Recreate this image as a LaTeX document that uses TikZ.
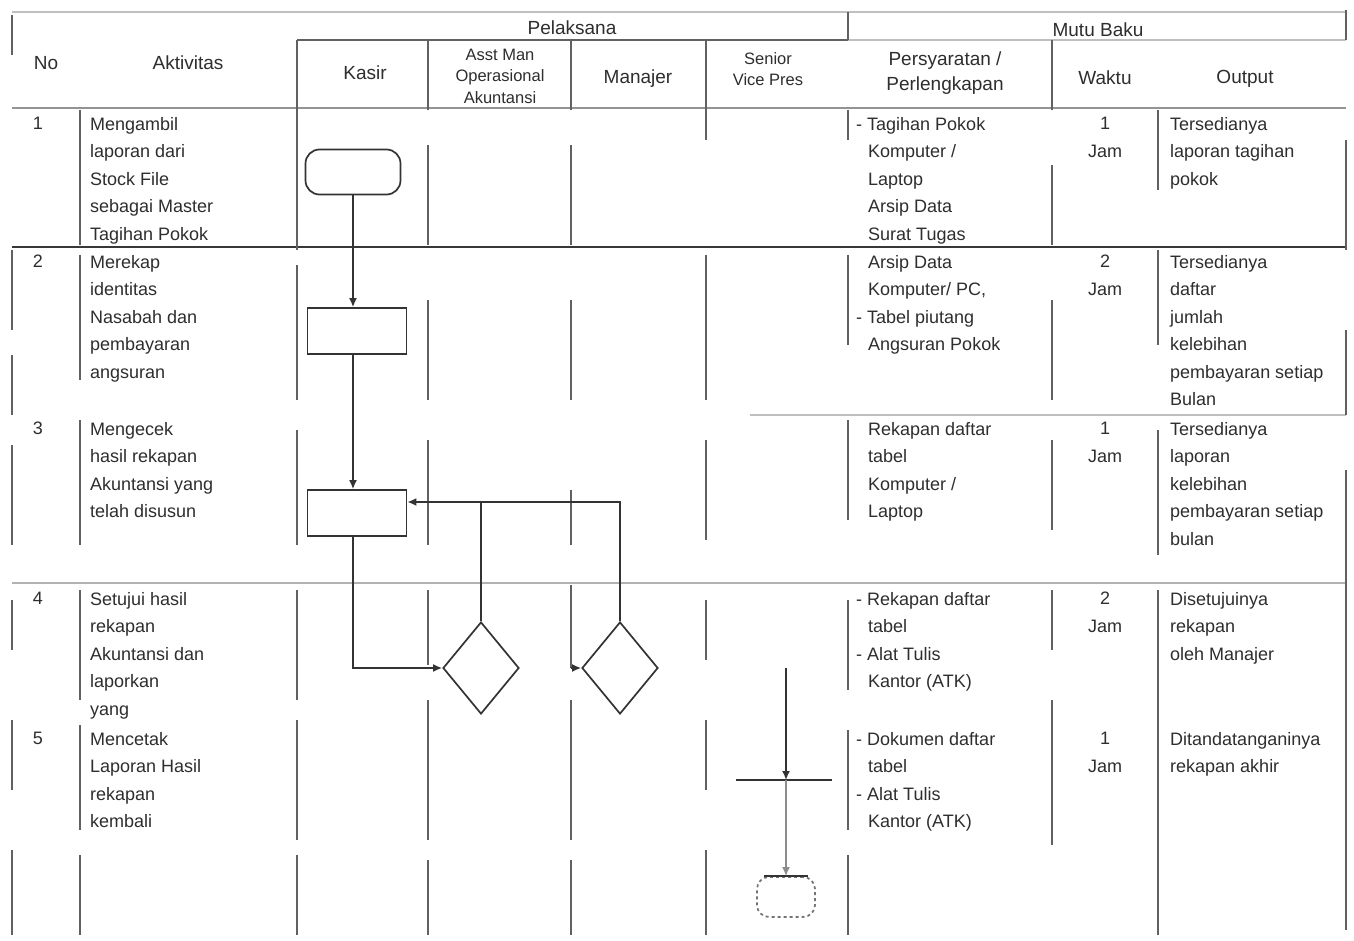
\documentclass[tikz,border=0pt]{standalone}
\usepackage{fontspec}
\setmainfont{Liberation Sans}
\usetikzlibrary{shapes.geometric,arrows.meta}
\begin{document}
\begin{tikzpicture}[x=1pt,y=-1pt,
  grid/.style={draw=black!62, line width=1.5pt},
  faint/.style={draw=black!25, line width=1.2pt},
  flow/.style={draw=black!80, line width=1.7pt},
  arr/.style={flow,-{Latex[length=9pt,width=8pt]}},
  txt/.style={font=\fontsize{18}{27.5}\selectfont, text=black!82, inner sep=0pt, align=left, anchor=north west},
  ctxt/.style={txt, align=center, anchor=north},
  htxt/.style={font=\fontsize{19}{25}\selectfont, text=black!82, inner sep=0pt, align=center},
  stxt/.style={font=\fontsize{16.5}{21.5}\selectfont, text=black!82, inner sep=0pt, align=center},
  term/.style={flow, rectangle, rounded corners=14pt, minimum width=95pt, minimum height=45pt, inner sep=0pt},
  proc/.style={flow, rectangle, minimum width=99pt, minimum height=46pt, inner sep=0pt},
  dec/.style={flow, diamond, minimum width=76pt, minimum height=92pt, inner sep=0pt},
]
\fill[white] (0,0) rectangle (1354,941);
\path[use as bounding box] (0,0) rectangle (1354,941);

% horizontal rules
\draw[faint] (12,12) -- (1346,12);
\draw[grid] (297,40) -- (848,40);
\draw[faint] (848,40) -- (1346,40);
\draw[draw=black!42, line width=1.6pt] (12,108) -- (1346,108);
\draw[draw=black!78, line width=2.4pt] (12,247) -- (1346,247);
\draw[faint] (750,415) -- (1346,415);
\draw[draw=black!30, line width=1.5pt] (12,583) -- (1346,583);

% vertical rules (broken segments as in the scan)
\foreach \x/\segs in {
  12/{15/55,250/330,355/415,445/545,600/650,720/790,850/935},
  80/{110/245,255/380,420/545,590/700,725/830,855/935},
  297/{40/250,265/400,430/545,590/700,720/840,855/935},
  428/{40/110,145/245,300/400,440/545,590/665,700/840,860/935},
  571/{40/110,145/245,300/400,490/545,585/668,700/840,860/935},
  706/{40/140,255/400,440/540,600/660,720/790,850/935},
  848/{12/40,110/140,255/345,420/520,600/690,730/830,855/935},
  1052/{40/110,165/245,300/400,440/530,590/650,700/845},
  1158/{110/190,250/345,430/555,590/935},
  1346/{10/40,140/250,330/415,470/930}} {
  \foreach \a/\b in \segs {\draw[grid] (\x,\a) -- (\x,\b);}
}

% header
\node[htxt] (hno) at (46,63) {No};
\node[htxt] (hakt) at (188,63) {Aktivitas};
\node[htxt] (hpel) at (572,28) {Pelaksana};
\node[htxt] (hkas) at (365,73) {Kasir};
\node[stxt] (hasst) at (500,76) {Asst Man\\Operasional\\Akuntansi};
\node[htxt] (hman) at (638,79) {Manajer};
\node[stxt] (hsen) at (768,69) {Senior\\Vice Pres};
\node[htxt] (hmutu) at (1098,30) {Mutu Baku};
\node[htxt] (hper) at (945,73) {Persyaratan /\\Perlengkapan};
\node[htxt] (hwak) at (1105,78) {Waktu};
\node[htxt] (hout) at (1245,79) {Output};

% numbers
\node[ctxt] (n1) at (38,117) {1};
\node[ctxt] (n2) at (38,255) {2};
\node[ctxt] (n3) at (38,422) {3};
\node[ctxt] (n4) at (38,592) {4};
\node[ctxt] (n5) at (38,732) {5};

% activities
\node[txt] (a1) at (90,117) {Mengambil\\laporan dari\\Stock File\\sebagai Master\\Tagihan Pokok};
\node[txt] (a2) at (90,255) {Merekap\\identitas\\Nasabah dan\\pembayaran\\angsuran};
\node[txt] (a3) at (90,422) {Mengecek\\hasil rekapan\\Akuntansi yang\\telah disusun};
\node[txt] (a4) at (90,592) {Setujui hasil\\rekapan\\Akuntansi dan\\laporkan\\yang};
\node[txt] (a5) at (90,732) {Mencetak\\Laporan Hasil\\rekapan\\kembali};

% requirements
\node[txt] (k1) at (856,117) {- Tagihan Pokok\\\hspace*{12pt}Komputer /\\\hspace*{12pt}Laptop\\\hspace*{12pt}Arsip Data\\\hspace*{12pt}Surat Tugas};
\node[txt] (k2) at (856,255) {\hspace*{12pt}Arsip Data\\\hspace*{12pt}Komputer/ PC,\\- Tabel piutang\\\hspace*{12pt}Angsuran Pokok};
\node[txt] (k3) at (856,422) {\hspace*{12pt}Rekapan daftar\\\hspace*{12pt}tabel\\\hspace*{12pt}Komputer /\\\hspace*{12pt}Laptop};
\node[txt] (k4) at (856,592) {- Rekapan daftar\\\hspace*{12pt}tabel\\- Alat Tulis\\\hspace*{12pt}Kantor (ATK)};
\node[txt] (k5) at (856,732) {- Dokumen daftar\\\hspace*{12pt}tabel\\- Alat Tulis\\\hspace*{12pt}Kantor (ATK)};

% time
\node[ctxt] (w1) at (1105,117) {1\\Jam};
\node[ctxt] (w2) at (1105,255) {2\\Jam};
\node[ctxt] (w3) at (1105,422) {1\\Jam};
\node[ctxt] (w4) at (1105,592) {2\\Jam};
\node[ctxt] (w5) at (1105,732) {1\\Jam};

% output
\node[txt] (o1) at (1170,117) {Tersedianya\\laporan tagihan\\pokok};
\node[txt] (o2) at (1170,255) {Tersedianya\\daftar\\jumlah\\kelebihan\\pembayaran setiap\\Bulan};
\node[txt] (o3) at (1170,422) {Tersedianya\\laporan\\kelebihan\\pembayaran setiap\\bulan};
\node[txt] (o4) at (1170,592) {Disetujuinya\\rekapan\\oleh Manajer};
\node[txt] (o5) at (1170,732) {Ditandatanganinya\\rekapan akhir};

% flowchart
\node[term] (t1) at (353,172) {};
\node[proc] (p2) at (357,331) {};
\node[proc] (p3) at (357,513) {};
\node[dec] (d1) at (481,668) {};
\node[dec] (d2) at (620,668) {};
\draw[arr] (t1.south) -- (t1.south |- p2.north);
\draw[arr] (t1.south |- p2.south) -- (t1.south |- p3.north);
\draw[arr] (t1.south |- p3.south) |- (d1.west);
\draw[arr] (d2.north) -- (d2.north |- 0,502) -- (p3.east |- 0,502);
\draw[flow] (d1.north) -- (d1.north |- 0,502);
\coordinate (m1) at (571,668);
\draw[arr] (m1) -- (d2.west);

\coordinate (barL) at (736,780);
\coordinate (barR) at (832,780);
\coordinate (k) at (786,668);
\draw[flow] (barL) -- (barR);
\draw[arr] (k) -- (k |- barL);
\node[term, minimum width=58pt, minimum height=40pt, rounded corners=12pt, dashed, draw=black!55] (t2) at (786,897) {};
\draw[flow] ([xshift=8pt]t2.north west) -- ([xshift=-8pt]t2.north east);
\draw[arr, draw=black!45] (k |- barL) -- (t2.north);
\end{tikzpicture}
\end{document}
